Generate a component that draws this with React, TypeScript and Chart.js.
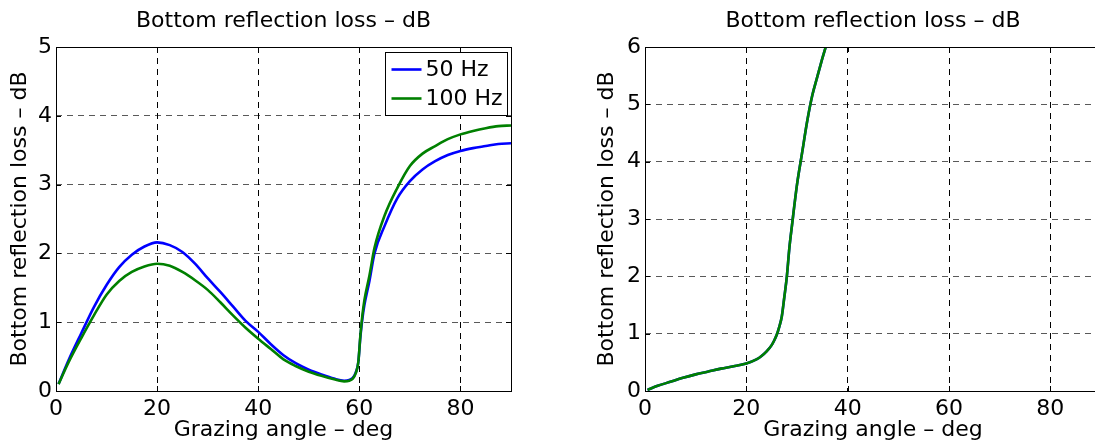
import React, { useEffect, useRef } from "react";
import { Chart, registerables } from "chart.js";

Chart.register(...registerables);

const FONT = "'DejaVu Sans', 'Liberation Sans', Arial, sans-serif";
const FONT_SIZE = 22;

const chartTitle = "Bottom reflection loss – dB";
const xTitle = "Grazing angle – deg";
const yTitle = "Bottom reflection loss – dB";
const xTicks = [0, 20, 40, 60, 80];
const leftYTicks = [0, 1, 2, 3, 4, 5];
const rightYTicks = [0, 1, 2, 3, 4, 5, 6];
const seriesLabels = ["50 Hz", "100 Hz"];
const seriesColors = ["#0000ff", "#008000"];

const leftAngles = [
  0.5, 2.5, 5, 7.5, 10, 12.5, 15, 17.5, 20, 22.5, 25, 27.5, 30, 32.5, 35, 37.5,
  40, 42.5, 45, 47.5, 50, 52.5, 55, 57, 58, 58.7, 59.3, 59.8, 60.2, 60.6, 61,
  62, 63, 65, 67.5, 70, 72.5, 75, 77.5, 80, 82.5, 85, 87.5, 90,
];
const left50 = [
  0.1, 0.45, 0.84, 1.22, 1.54, 1.8, 1.98, 2.1, 2.16, 2.12, 2.02, 1.85, 1.64,
  1.44, 1.23, 1.02, 0.86, 0.68, 0.52, 0.4, 0.31, 0.24, 0.18, 0.15, 0.16, 0.19,
  0.27, 0.42, 0.78, 1.05, 1.25, 1.6, 2.0, 2.4, 2.8, 3.05, 3.22, 3.34, 3.43,
  3.49, 3.53, 3.56, 3.59, 3.6,
];
const left100 = [
  0.1, 0.42, 0.77, 1.1, 1.4, 1.6, 1.73, 1.81, 1.85, 1.82, 1.73, 1.61, 1.47,
  1.29, 1.1, 0.92, 0.76, 0.61, 0.46, 0.36, 0.28, 0.22, 0.17, 0.14, 0.15, 0.18,
  0.26, 0.42, 0.8, 1.1, 1.32, 1.68, 2.08, 2.55, 2.95, 3.27, 3.45, 3.56, 3.66,
  3.73, 3.78, 3.82, 3.85, 3.86,
];

const rightAngles = [
  0.5, 2.5, 5, 7.5, 10, 12.5, 15, 17.5, 20, 22, 23, 24, 25, 25.5, 26, 26.5, 27,
  27.5, 28, 28.5, 29, 30, 31, 32, 33, 34, 35, 36, 37,
];
const right50 = [
  0.02, 0.09, 0.16, 0.23, 0.29, 0.34, 0.39, 0.43, 0.48, 0.55, 0.61, 0.69, 0.8,
  0.88, 0.98, 1.12, 1.3, 1.64, 2.0, 2.5, 2.88, 3.6, 4.15, 4.7, 5.15, 5.48, 5.8,
  6.1, 6.42,
];
const right100 = [
  0.02, 0.09, 0.16, 0.23, 0.29, 0.34, 0.39, 0.43, 0.48, 0.55, 0.61, 0.69, 0.8,
  0.88, 0.98, 1.12, 1.3, 1.64, 2.0, 2.5, 2.88, 3.6, 4.15, 4.7, 5.15, 5.48, 5.8,
  6.1, 6.42,
];

const framePlugin = {
  id: "matlabFrame",
  afterDatasetsDraw(chart: any, _args: any, opts: any) {
    const { ctx, chartArea: a, scales } = chart;
    ctx.save();
    ctx.strokeStyle = "#000";
    ctx.lineWidth = 1;
    const tl = 5;
    ctx.beginPath();
    scales.x.ticks.forEach((t: any) => {
      const px = Math.round(scales.x.getPixelForValue(t.value)) + 0.5;
      ctx.moveTo(px, a.bottom);
      ctx.lineTo(px, a.bottom - tl);
      ctx.moveTo(px, a.top);
      ctx.lineTo(px, a.top + tl);
    });
    scales.y.ticks.forEach((t: any) => {
      const py = Math.round(scales.y.getPixelForValue(t.value)) + 0.5;
      ctx.moveTo(a.left, py);
      ctx.lineTo(a.left + tl, py);
      ctx.moveTo(a.right, py);
      ctx.lineTo(a.right - tl, py);
    });
    ctx.stroke();
    ctx.strokeRect(
      Math.round(a.left) + 0.5,
      Math.round(a.top) + 0.5,
      Math.round(a.right - a.left),
      Math.round(a.bottom - a.top)
    );
    ctx.fillStyle = "#000";
    ctx.font = `${FONT_SIZE}px ${FONT}`;
    ctx.textAlign = "center";
    ctx.textBaseline = "middle";
    ctx.fillText(opts.title, (a.left + a.right) / 2, opts.titleY);

    if (opts.legend) {
      const w = 122;
      const h = 63;
      const bx = Math.round(a.right - 4 - w) + 0.5;
      const by = Math.round(a.top + 5) + 0.5;
      ctx.fillStyle = "#fff";
      ctx.fillRect(bx, by, w, h);
      ctx.strokeStyle = "#000";
      ctx.lineWidth = 1;
      ctx.strokeRect(bx, by, w, h);
      chart.data.datasets.forEach((ds: any, i: number) => {
        const ry = by + 17 + i * 29;
        ctx.strokeStyle = ds.borderColor;
        ctx.lineWidth = ds.borderWidth;
        ctx.beginPath();
        ctx.moveTo(bx + 6, ry);
        ctx.lineTo(bx + 36, ry);
        ctx.stroke();
        ctx.fillStyle = "#000";
        ctx.textAlign = "left";
        ctx.textBaseline = "middle";
        ctx.fillText(ds.label, bx + 40, ry + 1);
      });
    }
    ctx.restore();
  },
};

function makeConfig(
  angles: number[],
  s50: number[],
  s100: number[],
  yTicks: number[],
  yMax: number,
  padRight: number,
  yTitlePad: number,
  legend: boolean
): any {
  const font = { family: FONT, size: FONT_SIZE };
  return {
    type: "line",
    data: {
      datasets: [s50, s100].map((vals, i) => ({
        label: seriesLabels[i],
        data: angles.map((x, j) => ({ x, y: vals[j] })),
        borderColor: seriesColors[i],
        backgroundColor: seriesColors[i],
        borderWidth: 2.6,
        pointRadius: 0,
        cubicInterpolationMode: "monotone",
        fill: false,
        order: 1 - i,
      })),
    },
    options: {
      responsive: false,
      animation: false,
      layout: { padding: { top: 47, left: 0, right: padRight, bottom: 0 } },
      plugins: {
        legend: { display: false },
        tooltip: { enabled: false },
        title: { display: false },
        matlabFrame: { title: chartTitle, titleY: 21, legend },
      },
      scales: {
        x: {
          type: "linear",
          min: 0,
          max: 90,
          afterBuildTicks: (s: any) => {
            s.ticks = xTicks.map((v) => ({ value: v }));
          },
          afterFit: (s: any) => {
            s.height = 57;
          },
          grid: { color: "#000", lineWidth: 1, drawTicks: false },
          border: { display: false, dash: [6, 5] },
          ticks: {
            padding: 5,
            color: "#000",
            font,
            maxRotation: 0,
            autoSkip: false,
          },
          title: {
            display: true,
            text: xTitle,
            color: "#000",
            font,
            padding: { top: 0, bottom: 5 },
          },
        },
        y: {
          type: "linear",
          min: 0,
          max: yMax,
          afterBuildTicks: (s: any) => {
            s.ticks = yTicks.map((v) => ({ value: v }));
          },
          afterFit: (s: any) => {
            s.width = 56;
          },
          grid: { color: "rgba(0,0,0,0.65)", lineWidth: 1, drawTicks: false },
          border: { display: false, dash: [6, 5] },
          ticks: { padding: 4, color: "#000", font, autoSkip: false },
          title: {
            display: true,
            text: yTitle,
            color: "#000",
            font,
            padding: { top: yTitlePad, bottom: 0 },
          },
        },
      },
    },
    plugins: [framePlugin],
  };
}

export default function App() {
  const c1 = useRef<HTMLCanvasElement | null>(null);
  const c2 = useRef<HTMLCanvasElement | null>(null);

  useEffect(() => {
    const ch1 = new Chart(
      c1.current as HTMLCanvasElement,
      makeConfig(leftAngles, left50, left100, leftYTicks, 5, 49, 7, true)
    );
    const ch2 = new Chart(
      c2.current as HTMLCanvasElement,
      makeConfig(rightAngles, right50, right100, rightYTicks, 6, 55, 5, false)
    );
    return () => {
      ch1.destroy();
      ch2.destroy();
    };
  }, []);

  return (
    <div
      style={{
        position: "fixed",
        left: 0,
        top: 0,
        width: 1095,
        height: 448,
        overflow: "hidden",
        background: "#fff",
      }}
    >
      <canvas
        ref={c1}
        width={560}
        height={448}
        style={{ position: "absolute", left: 0, top: 0 }}
      />
      <canvas
        ref={c2}
        width={567}
        height={448}
        style={{ position: "absolute", left: 589, top: 0 }}
      />
    </div>
  );
}
